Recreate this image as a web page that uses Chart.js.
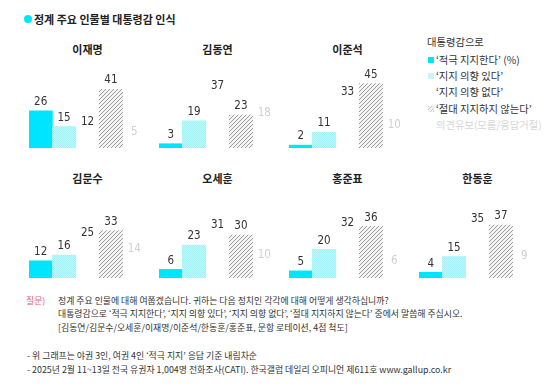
<!DOCTYPE html>
<html><head><meta charset="utf-8">
<script src="https://cdn.jsdelivr.net/npm/chart.js@4/dist/chart.umd.min.js"></script>
<style>
html,body{margin:0;padding:0;background:#fff;}
#wrap{position:relative;width:560px;height:390px;overflow:hidden;font-family:"Noto Sans CJK KR","Noto Sans",sans-serif;color:#333;}
.t{position:absolute;white-space:nowrap;}
canvas{position:absolute;}
.ttl{position:absolute;width:117px;text-align:center;font-weight:bold;font-size:11px;line-height:14px;color:#222;}
.lg{position:absolute;font-size:10.3px;line-height:12px;white-space:nowrap;color:#333;}
.mk{position:absolute;left:428px;width:6px;height:6px;}
.ft{position:absolute;font-size:8.9px;line-height:12px;white-space:nowrap;color:#333;}
</style></head>
<body><div id="wrap"></div>
<script>
const people = ['이재명','김동연','이준석','김문수','오세훈','홍준표','한동훈'];
const responses = ['‘적극 지지한다’','‘지지 의향 있다’','‘지지 의향 없다’','‘절대 지지하지 않는다’','의견유보(모름/응답거절)'];
const strongYes = [26,3,2,12,6,5,4];
const leanYes   = [15,19,11,16,23,20,15];
const leanNo    = [12,37,33,25,31,32,35];
const strongNo  = [41,23,45,33,30,36,37];
const undecided = [5,18,10,14,10,6,9];

const wrap = document.getElementById('wrap');
function addText(cls, left, top, html, extra){
  const d=document.createElement('div'); d.className=cls; d.style.left=left+'px'; d.style.top=top+'px';
  d.innerHTML=html; if(extra) Object.assign(d.style, extra); wrap.appendChild(d); return d;
}

// header
const dot=document.createElement('div');
Object.assign(dot.style,{position:'absolute',left:'24px',top:'15px',width:'8px',height:'8px',borderRadius:'50%',background:'#00E5FF'});
wrap.appendChild(dot);
addText('t',34,11,'정계 주요 인물별 대통령감 인식',{fontWeight:'bold',fontSize:'11px',lineHeight:'16px',color:'#222'});

// patterns
function dotPattern(){
  const c=document.createElement('canvas'); c.width=2; c.height=2; const x=c.getContext('2d');
  x.fillStyle='#A3EFF5'; x.fillRect(0,0,2,2);
  x.fillStyle='#C4F7FA'; x.fillRect(0,0,1,1); x.fillRect(1,1,1,1);
  return x.createPattern(c,'repeat');
}
function hatchPattern(){
  const c=document.createElement('canvas'); c.width=4; c.height=4; const x=c.getContext('2d');
  x.fillStyle='#f4f4f4'; x.fillRect(0,0,4,4);
  x.strokeStyle='#9c9c9c'; x.lineWidth=1;
  x.beginPath(); x.moveTo(0,4); x.lineTo(4,0); x.moveTo(-1,1); x.lineTo(1,-1); x.moveTo(3,5); x.lineTo(5,3); x.stroke();
  return x.createPattern(c,'repeat');
}
const dotP=dotPattern(), hatchP=hatchPattern();
const barColors=['#00E5FF',dotP,'rgba(0,0,0,0)',hatchP,'rgba(0,0,0,0)'];
const labelColors=['#333','#333','#333','#333','#d0d0d0'];

const labelPlugin={id:'vals',afterDatasetsDraw(chart){
  const ctx=chart.ctx; const meta=chart.getDatasetMeta(0);
  ctx.save(); ctx.font='11.5px "Liberation Sans Narrow","DejaVu Sans Condensed",sans-serif';
  ctx.textAlign='center'; ctx.textBaseline='bottom';
  meta.data.forEach((el,i)=>{ ctx.fillStyle=labelColors[i]; ctx.fillText(chart.data.datasets[0].data[i], el.x, el.y-3); });
  ctx.restore();
}};

const panelLeft=[29,159,289,29,159,289,419];
const panelBase=[148,148,148,278,278,278,278];
const titleY=[42,42,42,171,171,171,171];
const W=117,H=86;
people.forEach((p,i)=>{
  const cv=document.createElement('canvas'); cv.width=W; cv.height=H;
  cv.style.left=panelLeft[i]+'px'; cv.style.top=(panelBase[i]-H)+'px'; cv.style.width=W+'px'; cv.style.height=H+'px';
  wrap.appendChild(cv);
  addText('ttl',panelLeft[i],titleY[i],p);
  new Chart(cv,{type:'bar',
    data:{labels:responses,datasets:[{data:[strongYes[i],leanYes[i],leanNo[i],strongNo[i],undecided[i]],
      backgroundColor:barColors,borderWidth:0,barPercentage:1,categoryPercentage:1}]},
    options:{responsive:false,animation:false,events:[],layout:{padding:0},
      plugins:{legend:{display:false},tooltip:{enabled:false}},
      scales:{x:{display:false},y:{display:false,min:0,max:60}}},
    plugins:[labelPlugin]});
});

// legend
addText('lg',427,36,'대통령감으로');
const mkStyles=[{background:'#00E5FF'},{background:'#C6F7FA'},null,
  {background:'repeating-linear-gradient(135deg,#c8c8c8 0 1px,#f2f2f2 1px 2.5px)'},null];
const lgY=[60,76,92,108.5,125];
responses.forEach((r,i)=>{
  const label = i===0 ? r+' (%)' : r;
  addText('lg',436,lgY[i]-6,label, i===4?{color:'#d6d6d6'}:null);
  if(mkStyles[i]){
    const m=document.createElement('div'); m.className='mk'; m.style.top=(lgY[i]-3)+'px';
    Object.assign(m.style,mkStyles[i]); wrap.appendChild(m);
  }
});

// footer
addText('ft',26,295,'질문)',{color:'#e8607a'});
addText('ft',58,295,'정계 주요 인물에 대해 여쭙겠습니다. 귀하는 다음 정치인 각각에 대해 어떻게 생각하십니까?');
addText('ft',58,308,'대통령감으로 ‘적극 지지한다’, ‘지지 의향 있다’, ‘지지 의향 없다’, ‘절대 지지하지 않는다’ 중에서 말씀해 주십시오.');
addText('ft',58,322,'[김동연/김문수/오세훈/이재명/이준석/한동훈/홍준표, 문항 로테이션, 4점 척도]');
addText('ft',27,350,'- 위 그래프는 야권 3인, 여권 4인 ‘적극 지지’ 응답 기준 내림차순');
addText('ft',27,364,'- 2025년 2월 11~13일 전국 유권자 1,004명 전화조사(CATI). 한국갤럽 데일리 오피니언 제611호 www.gallup.co.kr');
</script></body></html>
